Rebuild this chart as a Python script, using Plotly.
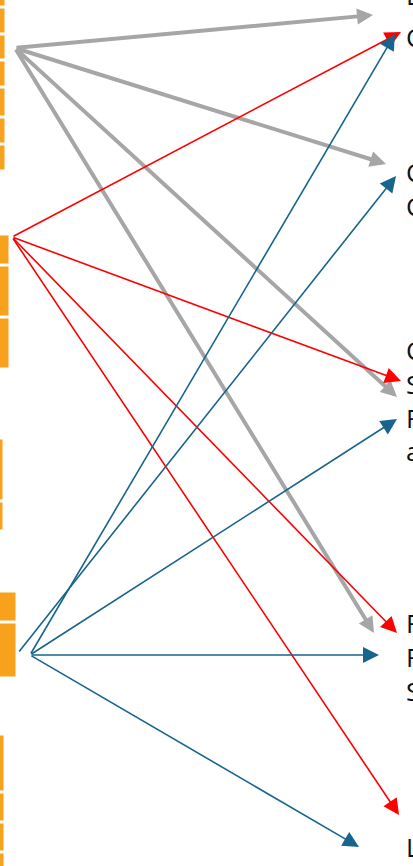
import plotly.graph_objects as go

# ---- data (in pixel-like units) ----
# orange stacked bars on the left: (segment start, segment end) and bar length per group
group1_segments = [(-20, 6), (8, 33), (35, 59), (61, 86), (88, 116), (118, 143), (145, 170)]
group1_length = 5
group2_segments = [(235, 264), (266, 316), (318, 368)]
group2_length = 9
group3_segments = [(439, 500), (502, 530)]
group3_length = 3
group4_segments = [(592, 621), (623, 677)]
group4_length = 16
group5_segments = [(735, 791), (793, 821), (823, 851), (853, 880)]
group5_length = 4

# arrows: source point and target points
gray_source = (15, 48)
gray_targets = [(373, 15), (386, 164), (397, 397), (374, 633)]
red_source = (12, 237)
red_targets = [(401, 32), (401, 381), (397, 633), (399, 815)]
blue_source = (30, 655)
blue_alt_source = (18, 653)
blue_targets = [(395, 34), (396, 176), (397, 419), (379, 655), (359, 847)]
blue_sources = [blue_source, blue_alt_source, blue_source, blue_source, blue_source]

# labels on the right (only the first letters are visible), one block per group
top_label = "L"
label_blocks = [["C"], ["C", "C"], ["C", "S", "F", "a"], ["F", "F", "S"], ["L"]]
label_block_tops = [18, 153, 331, 604, 828]

ORANGE = "#F7A11C"
GRAY = "#A6A6A6"
RED = "#FF0000"
BLUE = "#17648C"
FONT = dict(family="Open Sans, Liberation Sans, sans-serif", size=26, color="#111111")

fig = go.Figure()

for segs, length in [(group1_segments, group1_length), (group2_segments, group2_length),
                     (group3_segments, group3_length), (group4_segments, group4_length),
                     (group5_segments, group5_length)]:
    fig.add_trace(go.Bar(
        orientation="h",
        y=[(a + b) / 2 for a, b in segs],
        x=[length + 10] * len(segs),
        base=-10,
        width=[b - a for a, b in segs],
        marker=dict(color=ORANGE, line=dict(color="white", width=1)),
        hoverinfo="skip",
    ))

annotations = []


def arrow(src, tgt, color, width, size):
    return dict(
        x=tgt[0], y=tgt[1], ax=src[0], ay=src[1],
        xref="x", yref="y", axref="x", ayref="y",
        text="", showarrow=True, arrowhead=2, arrowsize=size,
        arrowwidth=width, arrowcolor=color, standoff=0,
    )


for t in gray_targets:
    annotations.append(arrow(gray_source, t, GRAY, 4, 0.8))
for t in red_targets:
    annotations.append(arrow(red_source, t, RED, 1.6, 2.0))
for s, t in zip(blue_sources, blue_targets):
    annotations.append(arrow(s, t, BLUE, 1.6, 2.0))

# partially visible label at the very top edge
annotations.append(dict(
    x=405, y=0, xref="x", yref="y", text=top_label, showarrow=False,
    xanchor="left", yanchor="middle", yshift=5, borderpad=0, font=FONT,
))

for lines, top in zip(label_blocks, label_block_tops):
    annotations.append(dict(
        x=405, y=top, xref="x", yref="y", text="<br>".join(lines), showarrow=False,
        xanchor="left", yanchor="top", align="left",
        borderpad=0, font=FONT,
    ))

fig.update_layout(
    width=413, height=866,
    margin=dict(l=0, r=0, t=0, b=0),
    paper_bgcolor="white", plot_bgcolor="white",
    showlegend=False,
    xaxis=dict(range=[0, 413], visible=False, fixedrange=True),
    yaxis=dict(range=[866, 0], visible=False, fixedrange=True),
    annotations=annotations,
)

fig.write_html("out.html", config={"displayModeBar": False},
               post_script="document.body.style.margin='0';")
